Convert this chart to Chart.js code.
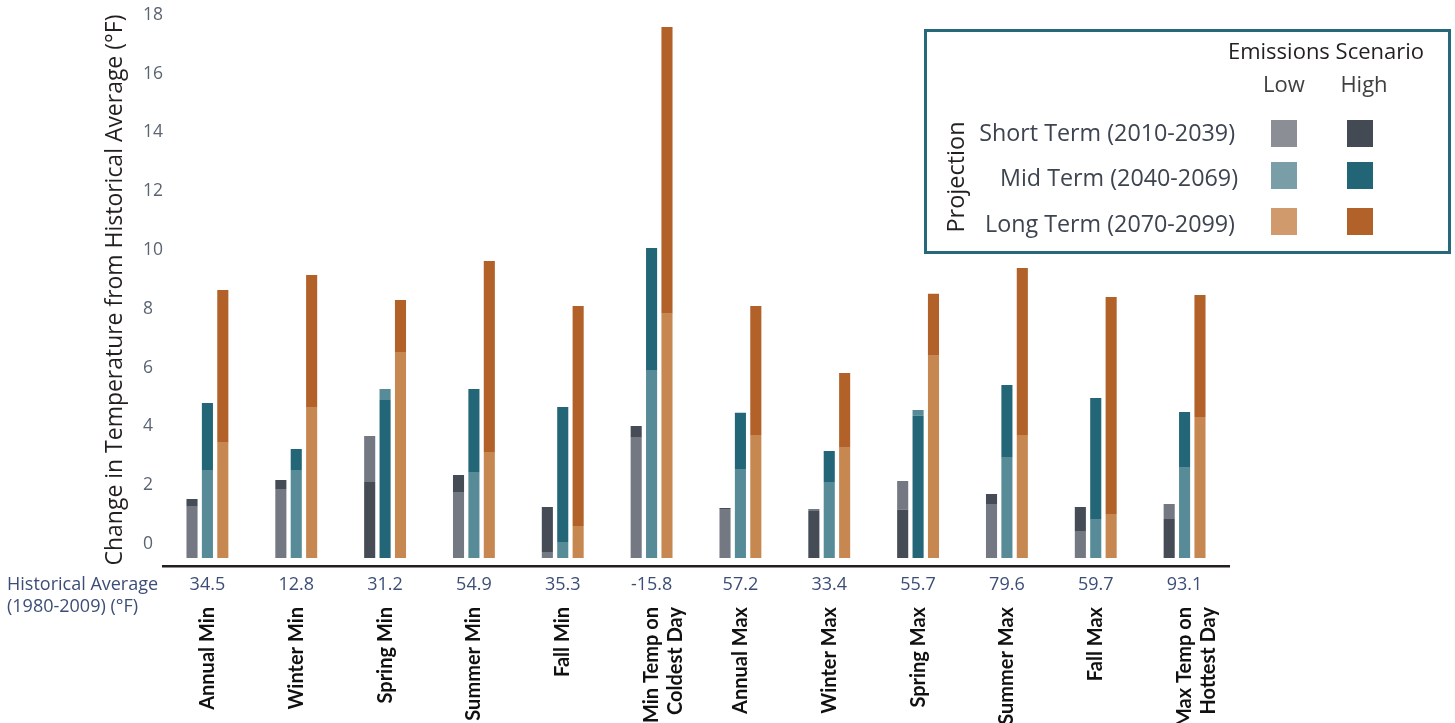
<!DOCTYPE html>
<html>
<head>
<meta charset="utf-8">
<script src="https://cdn.jsdelivr.net/npm/chart.js@4.4.0/dist/chart.umd.min.js"></script>
<style>
  html, body { margin: 0; padding: 0; background: #ffffff; }
  #wrap { position: relative; width: 1455px; height: 723px; overflow: hidden; }
  #c { position: absolute; left: 0; top: 0; }
  #legend { position: absolute; left: 924px; top: 29px; width: 521px; height: 219px; border: 3px solid #27697a; box-sizing: content-box; }
  .t { position: absolute; font-family: 'Open Sans', sans-serif; white-space: nowrap; line-height: 1; font-size: 22px; }
  .sq { position: absolute; width: 26px; height: 27px; }
</style>
</head>
<body>
<div id="wrap">
  <canvas id="c" width="1455" height="723"></canvas>
</div>
<script>
// ---------- data ----------
const categories = ['Annual Min', 'Winter Min', 'Spring Min', 'Summer Min', 'Fall Min',
  ['Min Temp on', 'Coldest Day'], 'Annual Max', 'Winter Max', 'Spring Max', 'Summer Max',
  'Fall Max', ['Max Temp on', 'Hottest Day']];
const historicalAvg = ['34.5', '12.8', '31.2', '54.9', '35.3', '-15.8', '57.2', '33.4', '55.7', '79.6', '59.7', '93.1'];

const shortLow  = [1.27, 1.87, 3.67, 1.74, -0.27, 3.61, 1.19, 1.19, 2.14, 1.36, 0.44, 1.36];
const shortHigh = [1.53, 2.18, 2.11, 2.35, 1.26, 4.01, 1.22, 1.12, 1.16, 1.70, 1.26, 0.85];
const midLow    = [2.52, 2.52, 5.27, 2.42, 0.07, 5.92, 2.55, 2.11, 4.56, 2.93, 0.82, 2.59];
const midHigh   = [4.80, 3.23, 4.90, 5.27, 4.66, 10.07, 4.46, 3.16, 4.36, 5.41, 4.97, 4.49];
const longLow   = [3.44, 4.63, 6.53, 3.13, 0.61, 7.83, 3.71, 3.27, 6.40, 3.71, 1.02, 4.32];
const longHigh  = [8.64, 9.15, 8.30, 9.63, 8.10, 17.59, 8.10, 5.82, 8.51, 9.39, 8.40, 8.47];

const barBase = -0.48;
const yTicks = [0, 2, 4, 6, 8, 10, 12, 14, 16, 18];

const termNames = ['Short Term (2010-2039)', 'Mid Term (2040-2069)', 'Long Term (2070-2099)'];
const scenarioNames = ['Low', 'High'];

// ---------- styles ----------
const barColors = {
  short: { low: '#747882', high: '#454c56' },
  mid:   { low: '#578b97', high: '#236677' },
  long:  { low: '#c68850', high: '#b26128' }
};
const legendColors = [
  ['#8b8e95', '#444a54'],
  ['#7a9ea8', '#226577'],
  ['#d09a6c', '#b26128']
];

const terms = [
  { key: 'short', name: termNames[0], low: shortLow, high: shortHigh },
  { key: 'mid',   name: termNames[1], low: midLow,   high: midHigh },
  { key: 'long',  name: termNames[2], low: longLow,  high: longHigh }
];

const datasets = [];
// lower segments first (drawn on top)
terms.forEach(t => {
  datasets.push({
    label: t.name + ' lower',
    stack: t.key,
    data: categories.map((_, i) => [barBase, Math.min(t.low[i], t.high[i])]),
    backgroundColor: ctx => {
      const i = ctx.dataIndex;
      return t.low[i] <= t.high[i] ? barColors[t.key].low : barColors[t.key].high;
    },
    borderWidth: 0
  });
});
terms.forEach(t => {
  datasets.push({
    label: t.name + ' upper',
    stack: t.key,
    data: categories.map((_, i) => [Math.min(t.low[i], t.high[i]), Math.max(t.low[i], t.high[i])]),
    backgroundColor: ctx => {
      const i = ctx.dataIndex;
      return t.low[i] <= t.high[i] ? barColors[t.key].high : barColors[t.key].low;
    },
    borderWidth: 0
  });
});

const extras = {
  id: 'extras',
  afterDraw(chart) {
    const { ctx } = chart;
    const xs = chart.scales.x;
    ctx.save();
    // y axis title
    const title = 'Change in Temperature from Historical Average (\u00B0F)';
    let size = 22;
    ctx.font = size + 'px "Open Sans"';
    const w = ctx.measureText(title).width;
    size = size * 551 / w;
    ctx.font = size + 'px "Open Sans"';
    ctx.translate(115, 290);
    ctx.rotate(-Math.PI / 2);
    ctx.fillStyle = '#231f20';
    ctx.textAlign = 'center';
    ctx.textBaseline = 'middle';
    ctx.fillText(title, 0, 0);
    ctx.restore();

    // historical average row
    ctx.save();
    ctx.fillStyle = '#3c4e77';
    ctx.font = '18px "Open Sans"';
    ctx.textBaseline = 'middle';
    ctx.textAlign = 'left';
    ctx.fillText('Historical Average', 7, 585);
    ctx.fillText('(1980-2009) (\u00B0F)', 7, 607);
    ctx.textAlign = 'center';
    historicalAvg.forEach((v, i) => {
      ctx.fillText(v, xs.getPixelForValue(i), 585);
    });
    ctx.restore();
  }
};

new Chart(document.getElementById('c'), {
  type: 'bar',
  data: { labels: categories, datasets },
  options: {
    responsive: false,
    animation: false,
    devicePixelRatio: 1,
    layout: { padding: { left: 143, right: 226, top: 0, bottom: 0 } },
    plugins: { legend: { display: false }, tooltip: { enabled: false } },
    datasets: { bar: { categoryPercentage: 0.52, barPercentage: 0.72 } },
    scales: {
      x: {
        stacked: true,
        grid: { display: false, drawTicks: false },
        border: { display: true, color: '#231f20', width: 2.5 },
        ticks: {
          autoSkip: false, minRotation: 90, maxRotation: 90, padding: 41,
          color: '#111111',
          font: { family: 'Lato', weight: 'bold', size: 20 }
        },
        afterFit: s => { s.height = 157; }
      },
      y: {
        stacked: false,
        min: -0.75, max: 18.15,
        grid: { display: false, drawTicks: false },
        border: { display: false },
        afterBuildTicks: s => { s.ticks = yTicks.map(v => ({ value: v })); },
        ticks: {
          crossAlign: 'far', padding: 0,
          color: '#5b6472',
          font: { family: 'Open Sans', size: 17.5 }
        },
        afterFit: s => { s.width = 20; }
      }
    }
  },
  plugins: [extras]
});

// ---------- legend (HTML) ----------
const wrap = document.getElementById('wrap');
const lg = document.createElement('div');
lg.id = 'legend';
wrap.appendChild(lg);
function addText(txt, x, y, anchor, extra, size) {
  const d = document.createElement('div');
  d.className = 't';
  d.textContent = txt;
  d.style.left = x + 'px';
  d.style.top = y + 'px';
  if (size) d.style.fontSize = size + 'px';
  const tx = anchor === 'right' ? '-100%' : (anchor === 'center' ? '-50%' : '0');
  d.style.transform = 'translate(' + tx + ',-50%)' + (extra || '');
  wrap.appendChild(d);
  return d;
}
const h = addText('Emissions Scenario', 1326, 50, 'center');
h.style.color = '#231f20';
const sy = [133, 178, 224];
const sqTop = [120, 162, 208];
addText(scenarioNames[0], 1284, 83, 'center').style.color = '#404040';
addText(scenarioNames[1], 1364, 83, 'center').style.color = '#404040';
const rightEdge = [1235, 1238, 1235];
termNames.forEach((n, r) => {
  const d = addText(n, rightEdge[r], sy[r], 'right', '', 23.3);
  d.style.color = '#3d4450';
  [0, 1].forEach(c => {
    const s = document.createElement('div');
    s.className = 'sq';
    s.style.left = (c === 0 ? 1271 : 1347) + 'px';
    s.style.top = sqTop[r] + 'px';
    s.style.background = legendColors[r][c];
    wrap.appendChild(s);
  });
});
const p = addText('Projection', 956, 177, 'center', ' rotate(-90deg)', 23.5);
p.style.color = '#231f20';
</script>
</body>
</html>
